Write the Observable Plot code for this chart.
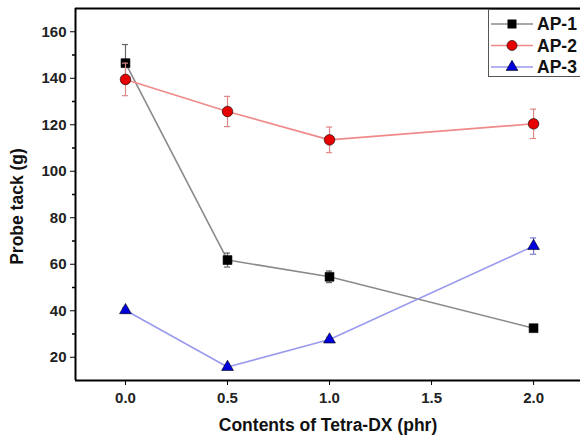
<!DOCTYPE html>
<html>
<head>
<meta charset="utf-8">
<script src="https://cdn.jsdelivr.net/npm/d3@7"></script>
<script src="https://cdn.jsdelivr.net/npm/@observablehq/plot@0.6"></script>
<style>
  html, body { margin: 0; padding: 0; background: #fff; }
  #wrap { position: relative; width: 580px; height: 440px; overflow: hidden; font-family: "Liberation Sans", Arial, sans-serif; }
  #legend { position: absolute; left: 488px; top: 9px; width: 100px; height: 68px; border: 1px solid #555; background: #fff; box-sizing: border-box; }
</style>
</head>
<body>
<div id="wrap"><div id="chart"></div><div id="legend"></div></div>
<script>
const contents = [0, 0.5, 1.0, 2.0];
const seriesNames = ["AP-1", "AP-2", "AP-3"];
const ap1 = [146.5, 61.8, 54.6, 32.5];
const ap1Err = [8, 3, 2.5, 1];
const ap2 = [139.5, 125.7, 113.5, 120.4];
const ap2Err = [7, 6.5, 5.5, 6.3];
const ap3 = [40.2, 15.8, 27.6, 67.8];
const ap3Err = [1, 0.8, 1, 3.5];
const xTicks = [0, 0.5, 1.0, 1.5, 2.0];
const yTicks = [20, 40, 60, 80, 100, 120, 140, 160];
const yMinor = [30, 50, 70, 90, 110, 130, 150];

const styles = {
  "AP-1": {symbol: "square", fill: "#000", line: "#8a8a8a", err: "#666", r: 5},
  "AP-2": {symbol: "circle", fill: "#e60000", line: "#f08a8a", err: "#d88", r: 5.3},
  "AP-3": {symbol: "triangle", fill: "#0000dd", line: "#9a9aee", err: "#77c", r: 4.4}
};

const rows = [];
[[ap1, ap1Err], [ap2, ap2Err], [ap3, ap3Err]].forEach(([vals, errs], i) => {
  vals.forEach((v, j) => rows.push({series: seriesNames[i], x: contents[j], y: v, e: errs[j]}));
});

const font = "Liberation Sans, Arial, sans-serif";
const marks = [
  Plot.ruleY([170], {stroke: "#000", strokeWidth: 2}),
  Plot.ruleX([-0.245], {stroke: "#000", strokeWidth: 2}),
  Plot.ruleY([10], {stroke: "#000", strokeWidth: 2}),
  Plot.axisX({ticks: xTicks, tickFormat: d3.format(".1f"), tickSize: 5, tickPadding: 7, tickWidth: 2, label: null, fontSize: 15, fontWeight: "bold", fill: "#222"}),
  Plot.axisY({ticks: yTicks, tickSize: 5, tickPadding: 4, tickWidth: 2, label: null, fontSize: 15, fontWeight: "bold", fill: "#222"}),
  Plot.axisY({ticks: yMinor, tickSize: 3, tickFormat: () => "", label: null, strokeWidth: 1.5}),
  Plot.text(["Contents of Tetra-DX (phr)"], {frameAnchor: "bottom", dy: 50, fontSize: 17.5, fontWeight: "bold", fill: "#111", fontFamily: font}),
  Plot.text(["Probe tack (g)"], {frameAnchor: "left", textAnchor: "middle", dx: -58, dy: 12, rotate: -90, fontSize: 17.5, fontWeight: "bold", fill: "#111", fontFamily: font})
];
seriesNames.forEach(name => {
  const d = rows.filter(r => r.series === name);
  const s = styles[name];
  marks.push(Plot.line(d, {x: "x", y: "y", stroke: s.line, strokeWidth: 1.6}));
  marks.push(Plot.ruleX(d, {x: "x", y1: r => r.y - r.e, y2: r => r.y + r.e, stroke: s.err, strokeWidth: 1.2}));
  marks.push(Plot.ruleY(d, {y: r => r.y - r.e, x1: r => r.x - 0.015, x2: r => r.x + 0.015, stroke: s.err, strokeWidth: 1.2}));
  marks.push(Plot.ruleY(d, {y: r => r.y + r.e, x1: r => r.x - 0.015, x2: r => r.x + 0.015, stroke: s.err, strokeWidth: 1.2}));
  marks.push(Plot.dot(d, {x: "x", y: "y", symbol: () => s.symbol, fill: s.fill, stroke: "#000", strokeWidth: 0.6, r: s.r}));
});

const chart = Plot.plot({
  width: 580, height: 440,
  marginLeft: 75, marginRight: 0, marginTop: 8, marginBottom: 60,
  style: {fontFamily: font, background: "#fff"},
  x: {domain: [-0.245, 2.23]},
  y: {domain: [10, 170]},
  symbol: {type: "identity"},
  marks
});
document.getElementById("chart").appendChild(chart);

// legend
const symMap = {square: d3.symbolSquare, circle: d3.symbolCircle, triangle: d3.symbolTriangle};
const symSize = {square: 70, circle: 80, triangle: 60};
let svg = `<svg width="100" height="68" xmlns="http://www.w3.org/2000/svg" style="display:block">`;
seriesNames.forEach((name, i) => {
  const s = styles[name];
  const cy = 14 + i * 21.5;
  const path = d3.symbol().type(symMap[s.symbol]).size(symSize[s.symbol])();
  svg += `<line x1="2" x2="44" y1="${cy}" y2="${cy}" stroke="${s.line}" stroke-width="1.6"/>`;
  svg += `<path transform="translate(23,${cy})" d="${path}" fill="${s.fill}" stroke="#000" stroke-width="0.6"/>`;
  svg += `<text x="48" y="${cy + 6}" font-family="${font}" font-size="17.5" font-weight="bold" fill="#111">${name}</text>`;
});
svg += `</svg>`;
document.getElementById("legend").innerHTML = svg;
</script>
</body>
</html>
